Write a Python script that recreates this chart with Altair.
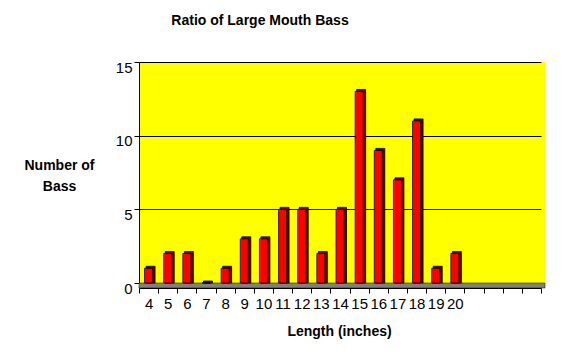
import altair as alt
import pandas as pd

# Data
lengths = [4, 5, 6, 7, 8, 9, 10, 11, 12, 13, 14, 15, 16, 17, 18, 19, 20]
counts = [1, 2, 2, 0, 1, 3, 3, 5, 5, 2, 5, 13, 9, 7, 11, 1, 2]
# category slots on the axis (last four are empty)
slots = [4, 5, 6, 7, 8, 9, 10, 11, 12, 13, 14, 15, 16, 17, 18, 19, 20, 21, 22, 23, 24]
y_ticks = [0, 5, 10, 15]

df = pd.DataFrame({"length": lengths, "count": counts})

FONT = "Liberation Sans"
W, H = 406, 226
WALL_H = 221

x_enc = alt.X(
    "length:O",
    scale=alt.Scale(domain=slots, range=[0, 402], paddingInner=0, paddingOuter=0),
    axis=alt.Axis(
        title="Length (inches)",
        titleFont=FONT, titleFontSize=14, titleFontWeight="bold", titleColor="black",
        titleX=200, titleY=43, titleBaseline="middle", titleAlign="center",
        labelFont=FONT, labelFontSize=15, labelColor="black", labelAngle=0,
        labelPadding=3, labelOverlap=False,
        labelExpr="datum.value > 20 ? '' : datum.label",
        tickColor="black", tickSize=5, tickBand="extent",
        domainColor="black", grid=False,
    ),
)
y_enc = alt.Y(
    "count:Q",
    scale=alt.Scale(domain=[0, 15], range=[WALL_H, 0], nice=False),
    axis=alt.Axis(
        values=y_ticks,
        title=["Number of", "Bass"],
        titleAngle=0, titleX=-80, titleY=96, titleAlign="center", titleBaseline="top",
        titleLineHeight=21,
        titleFont=FONT, titleFontSize=14, titleFontWeight="bold", titleColor="black",
        labelFont=FONT, labelFontSize=15, labelColor="black",
        labelOffset=5, labelPadding=2,
        tickColor="black", tickSize=5,
        domainColor="black",
        grid=True, gridColor="black", gridWidth=1, gridOpacity=1,
    ),
)

floor = alt.Chart(alt.Data(values=[{}])).mark_rect(
    fill="#808080", stroke="black", strokeWidth=0.5
).encode(
    x=alt.value(0), x2=alt.value(W), y=alt.value(WALL_H), y2=alt.value(H)
)

side = alt.Chart(df).mark_bar(
    width=9, xOffset=2, yOffset=-2, fill="#6a0000", stroke="black", strokeWidth=0.8
).encode(x=x_enc, y=y_enc, y2=alt.value(222))

front = alt.Chart(df).mark_bar(
    width=8, xOffset=0, fill="#ff0000", stroke="black", strokeWidth=0.8
).encode(x=x_enc, y=y_enc, y2=alt.value(225))

title = alt.Chart(alt.Data(values=[{}])).mark_text(
    text="Ratio of Large Mouth Bass", font=FONT, fontSize=14, fontWeight="bold",
    color="black", align="center", baseline="middle"
).encode(x=alt.value(121), y=alt.value(-41))

chart = alt.layer(floor, side, front, title).properties(
    width=W, height=H,
    autosize=alt.AutoSizeParams(type="none"),
    padding={"left": 131, "top": 54, "right": 13, "bottom": 58},
    background="white",
).configure_view(fill="#ffff00", stroke=None)

chart.save("out.html", embed_options={"renderer": "svg", "actions": False})
